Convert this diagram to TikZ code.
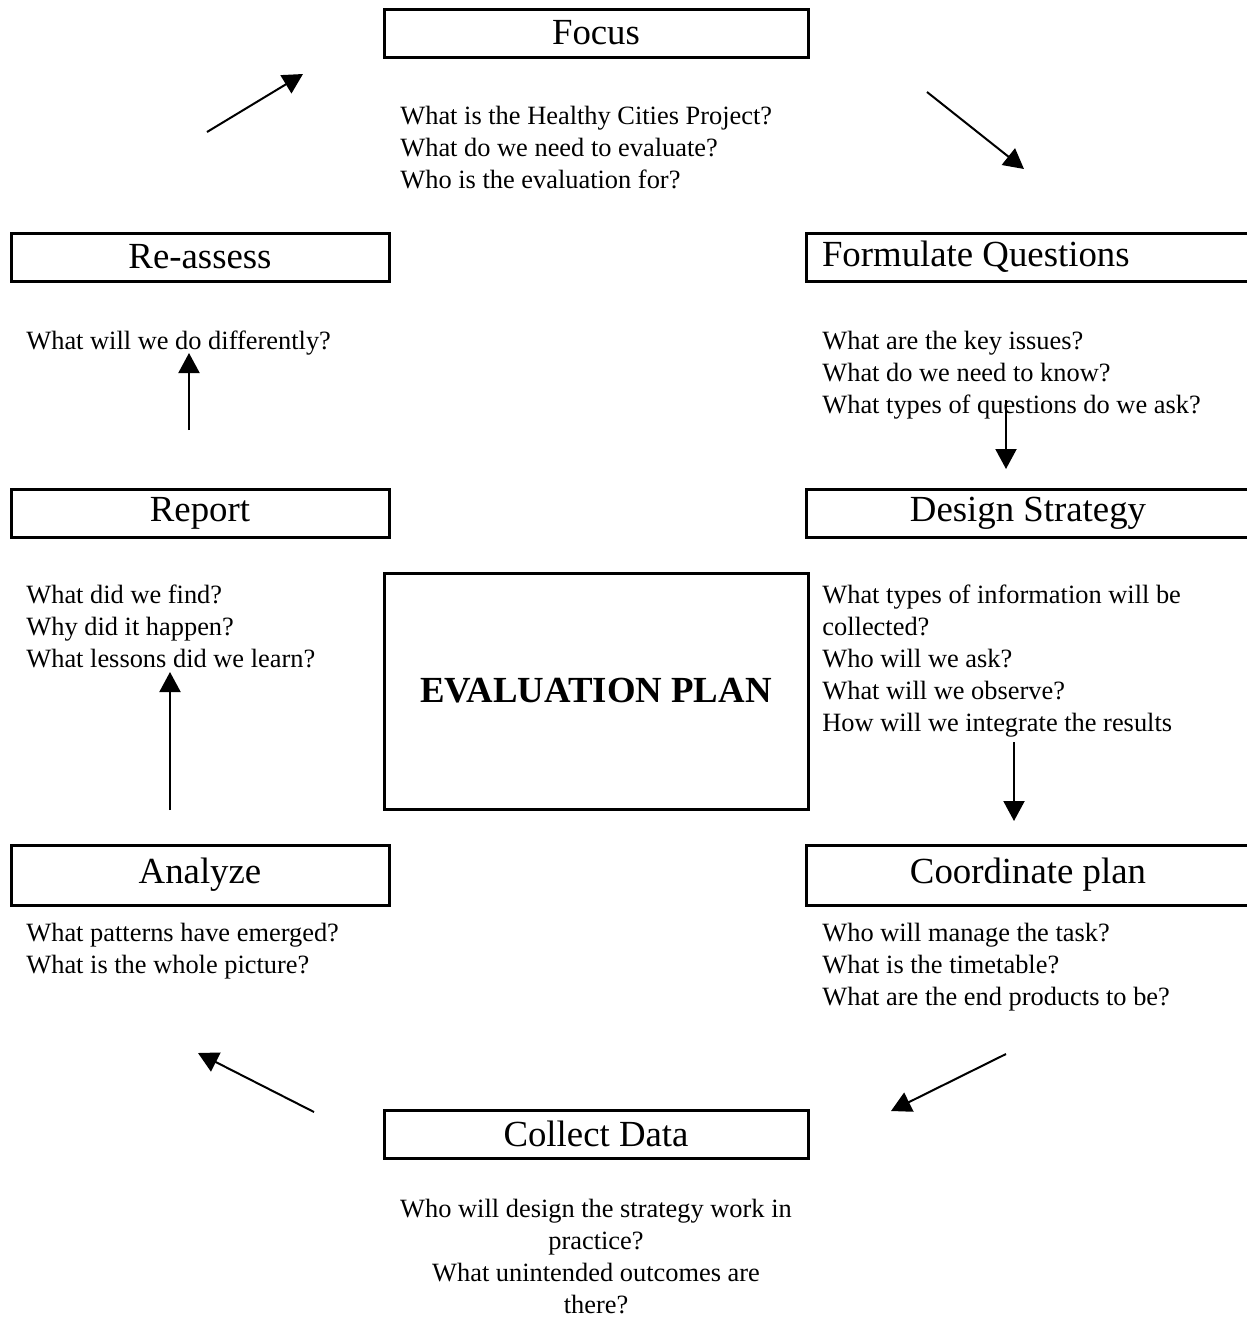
\documentclass[tikz,border=0pt]{standalone}
\usepackage{fontspec}
\setmainfont{Liberation Serif}
\usetikzlibrary{positioning,arrows.meta}

\begin{document}
\begin{tikzpicture}[x=0.5pt,y=-0.5pt,
		stage/.style={draw,line width=1.5pt,minimum height=24pt,inner sep=0pt,font=\fontsize{18.4}{22}\selectfont},
		ask/.style={align=left,inner sep=0pt,anchor=base west,font=\fontsize{13.2}{16}\selectfont},
		flow/.style={-{Triangle[length=10pt,width=10.5pt]},line width=1pt}]
		\useasboundingbox (0,0) rectangle (1247,1324);
		\clip (0,0) rectangle (1247,1324);
		\begin{scope}
			% stages of the cycle
			\node(focus) [stage,minimum width=212pt] at (596,33) {Focus};
			\node(formulate) [stage,inner xsep=8pt] at (1028,257) {\makebox[206pt][l]{Formulate Questions}};
			\node(design) [stage,minimum width=222pt] at (1028,513) {Design Strategy};
			\node(coordinate) [stage,minimum width=222pt,minimum height=30pt] at (1028,875) {Coordinate plan};
			\node(collect) [stage,minimum width=212pt] at (596,1134) {Collect Data};
			\node(analyze) [stage,minimum width=189pt,minimum height=30pt] at (200,875) {Analyze};
			\node(report) [stage,minimum width=189pt] at (200,513) {Report};
			\node(reassess) [stage,minimum width=189pt] at (200,257) {Re-assess};
			\node(plan) [stage,minimum width=212pt,minimum height=118pt,font=\fontsize{18.4}{22}\selectfont\bfseries] at (596,691) {EVALUATION PLAN};
			% questions (placed by the baseline of their last line)
			\node(qfocus) [ask] at (400,188) {What is the Healthy Cities Project?\\What do we need to evaluate?\\Who is the evaluation for?};
			\node(qformulate) [ask] at (822,413) {What are the key issues?\\What do we need to know?\\What types of questions do we ask?};
			\node(qdesign) [ask] at (822,731) {What types of information will be\\collected?\\Who will we ask?\\What will we observe?\\How will we integrate the results};
			\node(qcoordinate) [ask] at (822,1005) {Who will manage the task?\\What is the timetable?\\What are the end products to be?};
			\node(qcollect) [ask,align=center,anchor=base] at (596,1313) {Who will design the strategy work in\\practice?\\What unintended outcomes are\\there?};
			\node(qanalyze) [ask] at (26,973) {What patterns have emerged?\\What is the whole picture?};
			\node(qreport) [ask] at (26,667) {What did we find?\\Why did it happen?\\What lessons did we learn?};
			\node(qreassess) [ask] at (26,349) {What will we do differently?};
			% arrows
			\coordinate(a1) at (207,132); \coordinate(b1) at (303,74);
			\coordinate(a2) at (927,92);  \coordinate(b2) at (1024,169);
			\coordinate(a3) at (1006,400); \coordinate(b3) at (1006,469);
			\coordinate(a4) at (1014,742); \coordinate(b4) at (1014,821);
			\coordinate(a5) at (1006,1054); \coordinate(b5) at (891,1111);
			\coordinate(a6) at (314,1112); \coordinate(b6) at (198,1053);
			\coordinate(a7) at (170,810); \coordinate(b7) at (170,672);
			\coordinate(a8) at (189,430); \coordinate(b8) at (189,353);
			\foreach \i in {1,...,8}
				\draw[flow] (a\i) -- (b\i);
		\end{scope}
	\end{tikzpicture}
\end{document}
